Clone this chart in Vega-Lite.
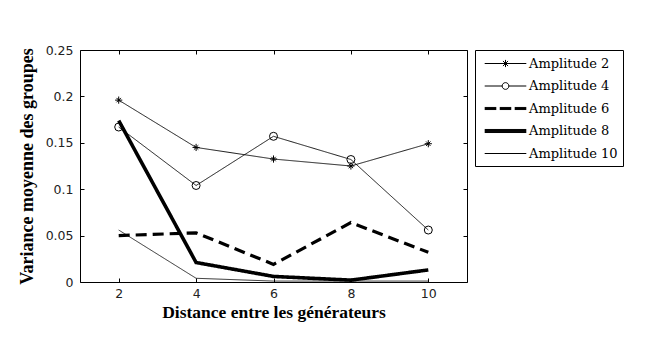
{
  "$schema": "https://vega.github.io/schema/vega-lite/v6.json",
  "width": 387,
  "height": 232,
  "padding": {"left": 18, "top": 44, "right": 5, "bottom": 5},
  "background": "white",
  "config": {
    "view": {"stroke": "black", "strokeWidth": 1},
    "axis": {"grid": false, "domain": false, "tickColor": "black", "labelColor": "#222", "titleColor": "black", "labelFont": "DejaVu Sans", "labelFontSize": 12.5, "titleFont": "Liberation Serif", "titleFontSize": 17.5, "titleFontWeight": "bold", "tickSize": -4}
  },
  "datasets": {
    "main": [
      {"d": 2, "v": 0.196, "a": "Amplitude 2"},
      {"d": 4, "v": 0.145, "a": "Amplitude 2"},
      {"d": 6, "v": 0.1325, "a": "Amplitude 2"},
      {"d": 8, "v": 0.125, "a": "Amplitude 2"},
      {"d": 10, "v": 0.149, "a": "Amplitude 2"},
      {"d": 2, "v": 0.167, "a": "Amplitude 4"},
      {"d": 4, "v": 0.104, "a": "Amplitude 4"},
      {"d": 6, "v": 0.157, "a": "Amplitude 4"},
      {"d": 8, "v": 0.132, "a": "Amplitude 4"},
      {"d": 10, "v": 0.056, "a": "Amplitude 4"},
      {"d": 2, "v": 0.050, "a": "Amplitude 6"},
      {"d": 4, "v": 0.053, "a": "Amplitude 6"},
      {"d": 6, "v": 0.019, "a": "Amplitude 6"},
      {"d": 8, "v": 0.064, "a": "Amplitude 6"},
      {"d": 10, "v": 0.032, "a": "Amplitude 6"},
      {"d": 2, "v": 0.174, "a": "Amplitude 8"},
      {"d": 4, "v": 0.021, "a": "Amplitude 8"},
      {"d": 6, "v": 0.006, "a": "Amplitude 8"},
      {"d": 8, "v": 0.002, "a": "Amplitude 8"},
      {"d": 10, "v": 0.013, "a": "Amplitude 8"},
      {"d": 2, "v": 0.056, "a": "Amplitude 10"},
      {"d": 4, "v": 0.004, "a": "Amplitude 10"},
      {"d": 6, "v": 0.001, "a": "Amplitude 10"},
      {"d": 8, "v": 0.001, "a": "Amplitude 10"},
      {"d": 10, "v": 0.001, "a": "Amplitude 10"}
    ]
  },
  "data": {"name": "main"},
  "layer": [
    {
      "mark": {"type": "line", "color": "black", "clip": true},
      "encoding": {
        "x": {"field": "d", "type": "quantitative", "scale": {"domain": [1, 11], "nice": false}, "axis": {"orient": "bottom", "values": [2, 4, 6, 8, 10], "title": "Distance entre les générateurs", "labelPadding": 9, "titlePadding": 4}},
        "y": {"field": "v", "type": "quantitative", "scale": {"domain": [0, 0.25], "nice": false}, "axis": {"orient": "left", "values": [0, 0.05, 0.1, 0.15, 0.2, 0.25], "format": ".2~f", "title": "Variance moyenne des groupes", "titleFontSize": 18, "labelPadding": 11, "titlePadding": 9}},
        "detail": {"field": "a"},
        "strokeDash": {"field": "a", "type": "nominal", "legend": null, "scale": {"domain": ["Amplitude 2", "Amplitude 4", "Amplitude 6", "Amplitude 8", "Amplitude 10"], "range": [[1, 0], [1, 0], [11, 6], [1, 0], [1, 0]]}},
        "strokeWidth": {"field": "a", "type": "nominal", "legend": null, "scale": {"type": "ordinal", "domain": ["Amplitude 2", "Amplitude 4", "Amplitude 6", "Amplitude 8", "Amplitude 10"], "range": [0.9, 0.9, 3.2, 3.6, 0.8]}}
      }
    },
    {
      "transform": [{"filter": "datum.a === 'Amplitude 2' || datum.a === 'Amplitude 4'"}],
      "mark": {"type": "point", "filled": false, "color": "black", "strokeWidth": 1, "size": 64, "opacity": 1},
      "encoding": {
        "x": {"field": "d", "type": "quantitative", "axis": {"orient": "top", "values": [2, 4, 6, 8, 10], "labels": false, "title": null}},
        "y": {"field": "v", "type": "quantitative", "axis": {"orient": "right", "values": [0, 0.05, 0.1, 0.15, 0.2, 0.25], "labels": false, "title": null}},
        "shape": {"field": "a", "type": "nominal", "legend": null, "scale": {"domain": ["Amplitude 2", "Amplitude 4"], "range": ["M0,-0.9V0.9M-0.9,0H0.9M-0.55,-0.55L0.55,0.55M-0.55,0.55L0.55,-0.55", "circle"]}}
      }
    },
    {
      "transform": [{"filter": "false"}],
      "mark": {"type": "point", "filled": false, "color": "black", "strokeWidth": 1, "opacity": 1},
      "encoding": {
        "x": {"field": "d", "type": "quantitative", "axis": null},
        "y": {"field": "v", "type": "quantitative", "axis": null},
        "shape": {"field": "a", "type": "nominal", "scale": {"domain": ["Amplitude 2", "Amplitude 4", "Amplitude 6", "Amplitude 8", "Amplitude 10"], "range": [
          "M-2.6,0H2.6M0,-0.45V0.45M-0.32,-0.32L0.32,0.32M-0.32,0.32L0.32,-0.32",
          "M-2.6,0H-0.42M0.42,0H2.6M-0.42,0A0.42,0.42 0 1,1 0.42,0A0.42,0.42 0 1,1 -0.42,0",
          "M-2.6,-0.13H-1.15M-0.72,-0.13H0.72M1.15,-0.13H2.6M-2.6,0H-1.15M-0.72,0H0.72M1.15,0H2.6M-2.6,0.13H-1.15M-0.72,0.13H0.72M1.15,0.13H2.6",
          "M-2.6,-0.19H2.6M-2.6,-0.06H2.6M-2.6,0.06H2.6M-2.6,0.19H2.6",
          "M-2.6,0H2.6"
        ]},
          "legend": {"title": null, "orient": "right", "offset": 7, "padding": 5, "strokeColor": "black", "fillColor": "white", "symbolSize": 256, "symbolStrokeColor": "black", "symbolStrokeWidth": 1, "symbolOffset": 17, "labelOffset": 15, "rowPadding": 6.5, "labelFont": "DejaVu Serif", "labelFontSize": 13, "labelColor": "black"}}
      }
    }
  ],
  "resolve": {"axis": {"x": "independent", "y": "independent"}, "scale": {"shape": "independent"}}
}
